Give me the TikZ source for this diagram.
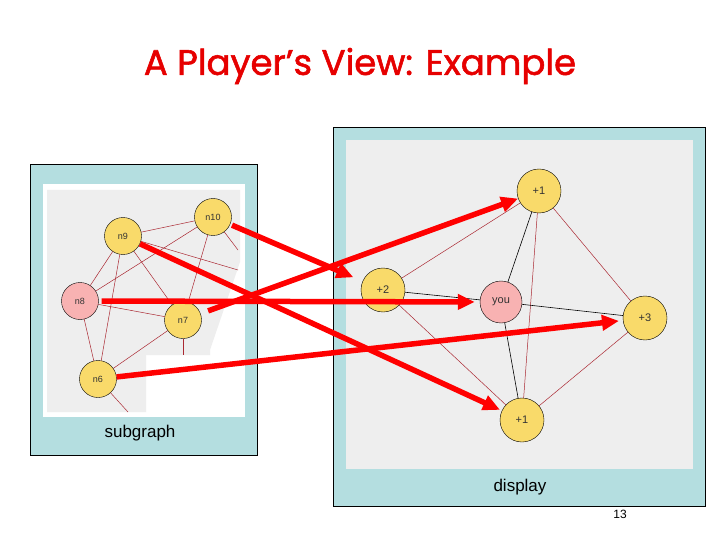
\documentclass[tikz,border=0pt]{standalone}
\usepackage{fontspec}
\setmainfont{Liberation Sans}
\newfontfamily\titlefont[FakeBold=1.6]{Poppins}
\usetikzlibrary{arrows.meta}
\definecolor{panelblue}{RGB}{180,222,224}
\definecolor{panelgray}{RGB}{238,238,238}
\definecolor{vyellow}{RGB}{249,218,106}
\definecolor{vpink}{RGB}{248,178,178}
\definecolor{linkred}{RGB}{170,40,50}
\definecolor{titlered}{RGB}{230,0,0}

\begin{document}
\begin{tikzpicture}[x=1pt, y=-1pt, lnk/.style={draw=linkred, line width=0.5pt}, blk/.style={draw=black, line width=0.6pt}, mv/.style={draw=red, line width=5.5pt, -{Triangle[length=17pt, width=15pt]}}]
\tikzstyle{vtx}=[circle, draw, fill=vyellow, inner sep=0pt, minimum size=37pt, text=black!80, font=\fontsize{9}{9}\selectfont]
\tikzstyle{me}=[vtx, fill=vpink]
\tikzstyle{bigvtx}=[vtx, minimum size=44pt, font=\fontsize{11}{11}\selectfont]
\useasboundingbox (0,0) rectangle (720,540);
% title
\node[text=titlered, font=\titlefont\fontsize{35.5}{36}\selectfont] (title) at (360,66) {A Player’s View: Example};
% subgraph panel
\draw[fill=panelblue] (30,164) rectangle (257,455);
\fill[white] (43,184) rectangle (245,417);
\fill[panelgray] (47,190) -- (240,190) -- (240,262) -- (210,350) -- (210,355) -- (146,355) -- (146,412) -- (47,412) -- cycle;
\node[font=\fontsize{17}{17}\selectfont] (sub) at (140,433) {subgraph};
% display panel
\draw[fill=panelblue] (333,127) rectangle (705,506);
\fill[panelgray] (346,140) rectangle (693,469);
\node[font=\fontsize{17}{17}\selectfont] (disp) at (520,487) {display};
\node[font=\fontsize{12}{12}\selectfont] (pg) at (620,514) {13};
% subgraph nodes
\node[vtx] (n10) at (213,217) {n10};
\node[vtx] (n9) at (123,236) {n9};
\node[me] (n8) at (80,301) {n8};
\node[vtx] (n7) at (183,320) {n7};
\node[vtx] (n6) at (98,379) {n6};
\coordinate (c10) at (238,250);
\coordinate (c9) at (238,270);
\coordinate (c7) at (183,355);
\coordinate (c6) at (128,412);
% display nodes
\node[bigvtx] (t1) at (539,191) {+1};
\node[bigvtx] (p2) at (383,290) {+2};
\node[bigvtx, fill=vpink, minimum size=42pt] (you) at (501,302) {you};
\node[bigvtx] (p3) at (645,318) {+3};
\node[bigvtx] (b1) at (522,420) {+1};
\foreach \i/\j in {n9/n10,n9/n8,n9/n7,n9/n6,n10/n8,n10/n7,n8/n7,n8/n6,n7/n6,n10/c10,n9/c9,n7/c7,n6/c6}{\draw[lnk] (\i) -- (\j);}
\foreach \i/\j in {t1/p2,t1/b1,t1/p3,p2/b1,p3/b1}{\draw[lnk] (\i) -- (\j);}
\foreach \i/\j in {t1/you,p2/you,you/p3,you/b1}{\draw[blk] (\i) -- (\j);}
% mapping
\draw[mv, shorten <=2pt, shorten >=10pt] (n10) -- (p2);
\draw[mv, shorten >=2pt] (n9) -- (b1);
\draw[mv, shorten <=3pt, shorten >=5pt] (n8) -- (you);
\draw[mv, shorten <=8pt] (n7) -- (t1);
\draw[mv, shorten >=4pt] (n6) -- (p3);
\end{tikzpicture}
\end{document}
